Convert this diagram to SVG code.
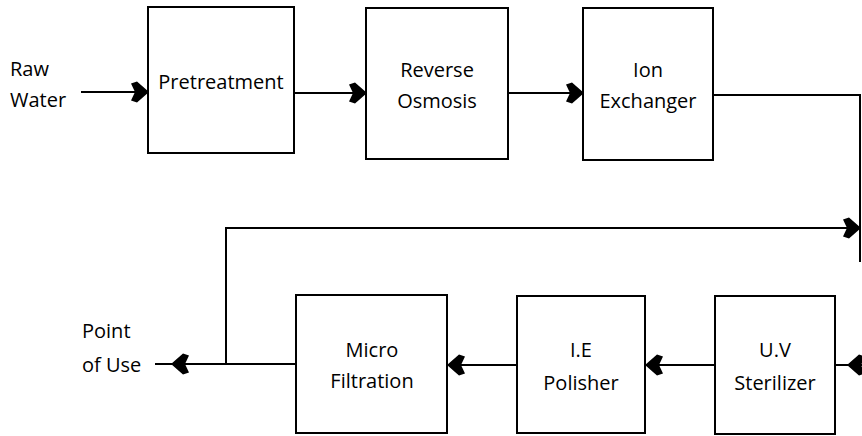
<svg xmlns="http://www.w3.org/2000/svg" width="862" height="436" viewBox="0 0 862 436">
<style>
.box{fill:#fff;stroke:#000;stroke-width:2}
.ln{fill:none;stroke:#000;stroke-width:2}
.t{font-family:"Open Sans","Liberation Sans",sans-serif;font-size:20px;fill:#000}
.c{text-anchor:middle}
</style>
<defs>
<marker id="ah" markerUnits="userSpaceOnUse" markerWidth="24" markerHeight="26" viewBox="-20 -13 24 26" refX="0" refY="0" orient="auto">
<path d="M1,0 L-11,-10.5 L-17,-8.5 L-13,0 L-17,8.5 L-11,10.5 Z" fill="#000"/>
</marker>
</defs>
<rect width="862" height="436" fill="#fff"/>
<g id="connectors">
<line class="ln" x1="81" y1="92" x2="148" y2="92" marker-end="url(#ah)"/>
<line class="ln" x1="294" y1="93" x2="366" y2="93" marker-end="url(#ah)"/>
<line class="ln" x1="508" y1="93" x2="583" y2="93" marker-end="url(#ah)"/>
<polyline class="ln" points="713,95 860,95 860,262"/>
<polyline class="ln" points="226,364 226,228 860,228" marker-end="url(#ah)"/>
<line class="ln" x1="862" y1="365" x2="848" y2="365" marker-end="url(#ah)"/>
<line class="ln" x1="848" y1="365" x2="835" y2="365"/>
<line class="ln" x1="715" y1="365" x2="646" y2="365" marker-end="url(#ah)"/>
<line class="ln" x1="517" y1="365" x2="448" y2="365" marker-end="url(#ah)"/>
<line class="ln" x1="296" y1="364" x2="172" y2="364" marker-end="url(#ah)"/>
<line class="ln" x1="172" y1="364" x2="155" y2="364"/>
</g>
<g id="raw-water">
<text class="t" x="10" y="76">Raw</text>
<text class="t" x="10" y="107">Water</text>
</g>
<g id="pretreatment">
<rect class="box" x="148" y="7" width="146" height="146"/>
<text class="t c" x="221" y="89">Pretreatment</text>
</g>
<g id="reverse-osmosis">
<rect class="box" x="366" y="8" width="142" height="151"/>
<text class="t c" x="437" y="77">Reverse</text>
<text class="t c" x="437" y="108">Osmosis</text>
</g>
<g id="ion-exchanger">
<rect class="box" x="583" y="8" width="130" height="152"/>
<text class="t c" x="648" y="77">Ion</text>
<text class="t c" x="648" y="108">Exchanger</text>
</g>
<g id="point-of-use">
<text class="t" x="82" y="338">Point</text>
<text class="t" x="82" y="372">of Use</text>
</g>
<g id="micro-filtration">
<rect class="box" x="296" y="295" width="151" height="138"/>
<text class="t c" x="372" y="357">Micro</text>
<text class="t c" x="372" y="388">Filtration</text>
</g>
<g id="ie-polisher">
<rect class="box" x="517" y="296" width="128" height="137"/>
<text class="t c" x="581" y="357">I.E</text>
<text class="t c" x="581" y="390">Polisher</text>
</g>
<g id="uv-sterilizer">
<rect class="box" x="715" y="296" width="120" height="138"/>
<text class="t c" x="775" y="357">U.V</text>
<text class="t c" x="775" y="390">Sterilizer</text>
</g>
</svg>
